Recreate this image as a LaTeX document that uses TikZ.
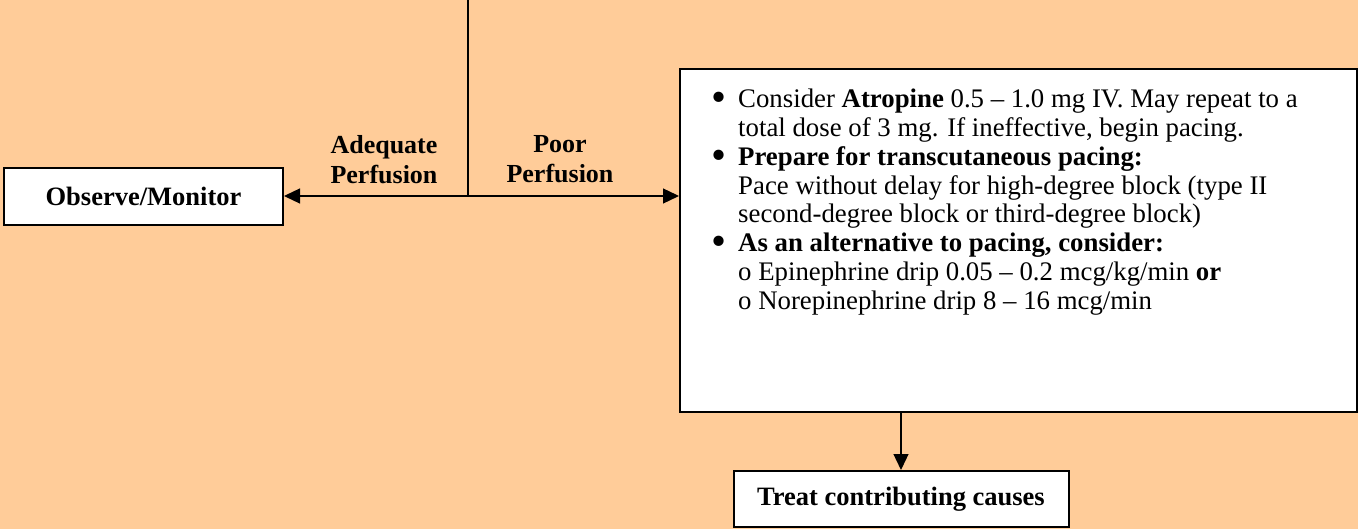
\documentclass[tikz,border=0pt]{standalone}
\usepackage{fontspec}
\setmainfont{Liberation Serif}
\usetikzlibrary{arrows.meta}
\definecolor{peach}{HTML}{FFCC99}
\newcommand{\listbullet}{\makebox[27pt][l]{\raisebox{-4pt}{\scalebox{1.6}{\textbullet}}}}
\newcommand{\listindent}{\hspace*{27pt}}

\begin{document}
\begin{tikzpicture}[x=1pt,y=1pt]
\tikzstyle{every node}+=[inner sep=0pt, font=\fontsize{26}{30}\selectfont]
\tikzstyle{box}=[draw=black, line width=2pt, fill=white, font=\fontsize{26.5}{30}\selectfont\bfseries]
\tikzstyle{arr}=[line width=1.3pt, -{Triangle[length=16pt,width=15pt]}]
\useasboundingbox (0,0) rectangle (1358,-529);
\fill [peach] (0,0) rectangle (1358,-529);
\node [box, minimum width=279pt, minimum height=57pt] (observe) at (143.5,-196.5) {Observe/Monitor};
\node [box, minimum width=677pt, minimum height=343pt] (drugbox) at (1018.5,-240.5) {};
\node [box, minimum width=335pt, minimum height=56pt] (treat) at (901,-499) {Treat contributing causes};
\coordinate (top) at (468,0);
\coordinate (split) at (468,-196);
\draw [line width=1.3pt] (top) -- (split);
\draw [arr] (split) -- (split -| observe.east);
\draw [arr] (split) -- (split -| drugbox.west);
\draw [arr] (drugbox.south -| treat.north) -- (treat.north);
\node [align=center, anchor=north, font=\fontsize{26}{30}\selectfont\bfseries] (adequate) at (384,-135) {Adequate\\Perfusion};
\node [align=center, anchor=north, font=\fontsize{26}{30}\selectfont\bfseries] (poor) at (560,-135) {Poor\\Perfusion};
\node [align=left, anchor=north west, font=\fontsize{26.8}{28.8}\selectfont] (druglist) at (711,-89) {%
\listbullet Consider \textbf{Atropine} 0.5 – 1.0 mg IV. May repeat to a\\
\listindent total dose of 3 mg. If ineffective, begin pacing.\\
\listbullet\textbf{Prepare for transcutaneous pacing:}\\
\listindent Pace without delay for high-degree block (type II\\
\listindent second-degree block or third-degree block)\\
\listbullet\textbf{As an alternative to pacing, consider:}\\
\listindent o Epinephrine drip 0.05 – 0.2 mcg/kg/min \textbf{or}\\
\listindent o Norepinephrine drip 8 – 16 mcg/min};
\end{tikzpicture}
\end{document}
